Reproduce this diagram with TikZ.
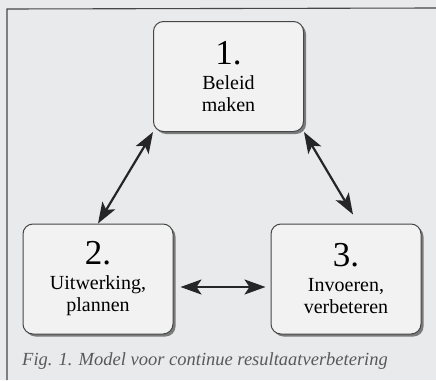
\documentclass[tikz,border=0pt]{standalone}
\usepackage{fontspec}
\setmainfont{Liberation Serif}
\usetikzlibrary{shadows, arrows.meta, calc}
\definecolor{pagebg}{RGB}{233,234,236}
\definecolor{boxbg}{RGB}{242,242,242}
\definecolor{inkgray}{RGB}{70,70,70}
\tikzset{stap/.style={draw=inkgray, line width=1pt, rounded corners=10pt, fill=boxbg,
             minimum width=150pt, minimum height=110pt, align=center,
             font=\fontsize{20}{22}\selectfont, text=black,
             drop shadow={shadow xshift=2.5pt, shadow yshift=-2.5pt, fill=black!70, opacity=0.7}},
         pijl/.style={{Stealth[length=21pt,width=15pt,inset=5pt]}-{Stealth[length=21pt,width=15pt,inset=5pt]}, line width=2.2pt, draw=black!85},
        }
\newcommand{\nr}[1]{{\fontsize{35}{30}\selectfont #1}\\[3pt]}

\begin{document}
\begin{tikzpicture}[x=1pt, y=-1pt]
        \useasboundingbox[fill=pagebg](0,0) rectangle (436,380);
        \draw[inkgray, line width=1.1pt](7,380) -- (7,9) -- (436,8);

        \node[stap](b1)at(228.5,76.5){\nr{1.}Beleid\\maken};
        \node[stap](b2)at(98,279){\nr{2.}Uitwerking,\\plannen};
        \node[stap](b3)at(346,279){\nr{3.}Invoeren,\\verbeteren};

        \draw[pijl](b1.south west) to[shorten <=-1pt, shorten >=7pt](b2.north);
        \draw[pijl](b1.south east) to ($(b3.north)+(7,-9)$);
        \draw[pijl]($(b2.east)+(7,8)$) to ($(b3.west)+(-5,8)$);

        \node[anchor=base west, inner sep=0pt, text=black!65,
              font=\fontsize{18.5}{18.5}\selectfont\itshape](cap)at(22,365){Fig. 1. Model voor continue resultaatverbetering};
    \end{tikzpicture}
\end{document}
